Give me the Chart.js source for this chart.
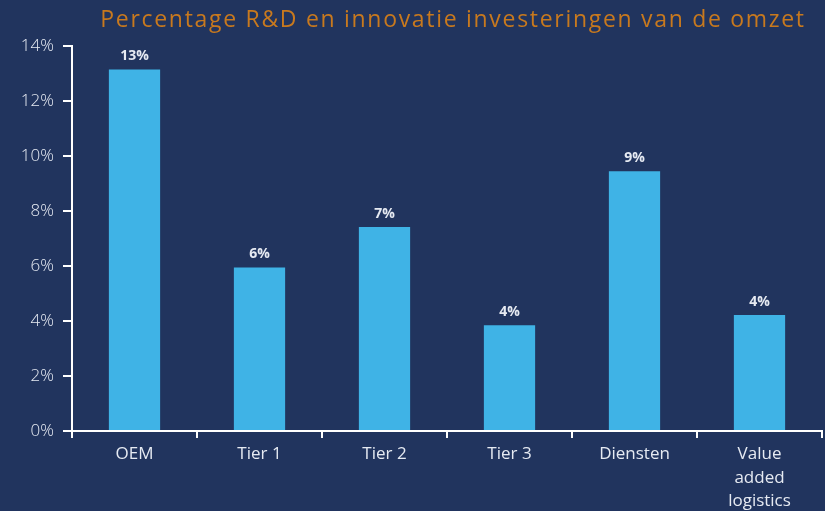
<!DOCTYPE html>
<html>
<head>
<meta charset="utf-8">
<script src="https://cdn.jsdelivr.net/npm/chart.js@4.4.1/dist/chart.umd.min.js"></script>
<style>
  html, body { margin: 0; padding: 0; background: #21345E; }
  #wrap { width: 825px; height: 511px; }
</style>
</head>
<body>
<div id="wrap"><canvas id="c" width="825" height="511"></canvas></div>
<script>
const categories = ['OEM', 'Tier 1', 'Tier 2', 'Tier 3', 'Diensten', ['Value', 'added', 'logistics']];
const rdShare = [13.15, 5.95, 7.42, 3.85, 9.45, 4.22];
const yTicks = [0, 2, 4, 6, 8, 10, 12, 14];
const titleText = 'Percentage R&D en innovatie investeringen van de omzet';

const FONT = "'Open Sans', 'Noto Sans', sans-serif";
const TEXT = '#E6EAF2';

// Percentage labels above each bar
const valueLabels = {
  id: 'valueLabels',
  afterDatasetsDraw(chart) {
    const ctx = chart.ctx;
    const meta = chart.getDatasetMeta(0);
    ctx.save();
    ctx.font = `700 14px ${FONT}`;
    ctx.fillStyle = TEXT;
    ctx.textAlign = 'center';
    ctx.textBaseline = 'bottom';
    meta.data.forEach((bar, i) => {
      ctx.fillText(Math.round(rdShare[i]) + '%', bar.x, bar.y - 6);
    });
    ctx.restore();
  }
};

// Wide, letter-spaced heading centred over the plot area
const heading = {
  id: 'heading',
  afterDraw(chart) {
    const ctx = chart.ctx;
    const area = chart.chartArea;
    ctx.save();
    ctx.font = `400 23px ${FONT}`;
    ctx.letterSpacing = '1.7px';
    ctx.fillStyle = '#C8791E';
    ctx.textAlign = 'center';
    ctx.textBaseline = 'middle';
    ctx.fillText(titleText, (area.left + area.right) / 2 + 6, 20);
    ctx.restore();
  }
};

new Chart(document.getElementById('c'), {
  type: 'bar',
  data: {
    labels: categories,
    datasets: [{
      data: rdShare,
      backgroundColor: '#3FB3E6',
      borderWidth: 0,
      categoryPercentage: 1,
      barPercentage: 0.41
    }]
  },
  options: {
    responsive: false,
    animation: false,
    layout: { padding: { left: 0, right: 3, top: 46, bottom: 0 } },
    plugins: {
      legend: { display: false },
      tooltip: { enabled: false },
      title: { display: false }
    },
    scales: {
      x: {
        afterFit(scale) { scale.height = 80; },
        grid: {
          display: true,
          offset: true,
          drawOnChartArea: false,
          drawTicks: true,
          tickLength: 7,
          color: '#FFFFFF',
          lineWidth: 2
        },
        border: { display: true, color: '#FFFFFF', width: 2 },
        ticks: {
          color: TEXT,
          font: { family: FONT, size: 17, weight: '400', lineHeight: 1.4 },
          padding: 4,
          maxRotation: 0,
          autoSkip: false
        }
      },
      y: {
        min: 0,
        max: 14,
        afterFit(scale) { scale.width = 72; },
        afterBuildTicks(scale) { scale.ticks = yTicks.map(v => ({ value: v })); },
        grid: {
          display: true,
          drawOnChartArea: false,
          drawTicks: true,
          tickLength: 9,
          color: '#FFFFFF',
          lineWidth: 2
        },
        border: { display: true, color: '#FFFFFF', width: 2 },
        ticks: {
          color: TEXT,
          font: { family: FONT, size: 17, weight: '300' },
          padding: 9,
          callback: v => v + '%'
        }
      }
    }
  },
  plugins: [valueLabels, heading]
});
</script>
</body>
</html>
